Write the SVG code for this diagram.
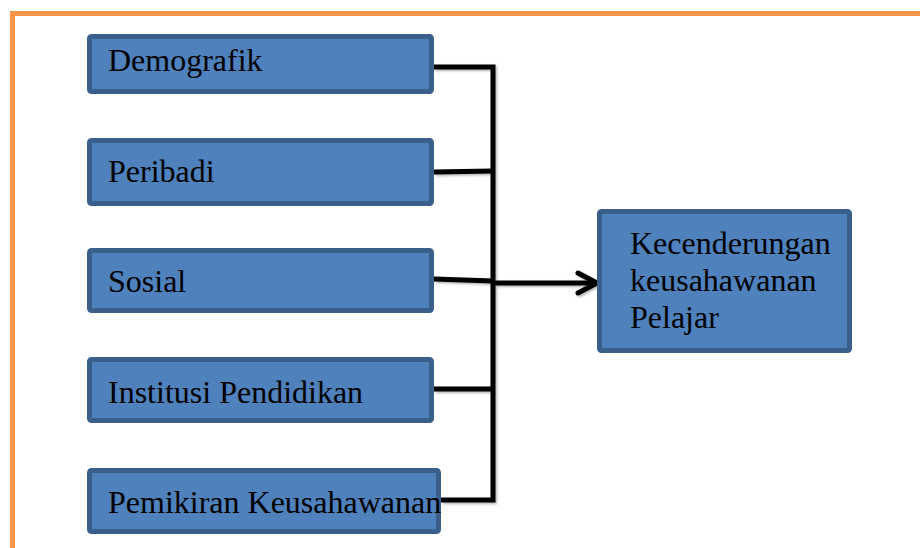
<svg xmlns="http://www.w3.org/2000/svg" width="920" height="548" viewBox="0 0 920 548">
  <defs>
    <style>
      .box { fill: #4F81BD; stroke: #3A5F8B; stroke-width: 5; }
      .label { font-family: "Liberation Serif", "Times New Roman", serif; font-size: 32px; fill: #000; }
      .wire { fill: none; stroke: #000; stroke-width: 5; stroke-linejoin: miter; }
    </style>
    <filter id="soft" x="-5%" y="-5%" width="110%" height="110%">
      <feDropShadow dx="1.5" dy="1.5" stdDeviation="1.2" flood-color="#000" flood-opacity="0.3"/>
    </filter>
  </defs>

  <rect width="920" height="548" fill="#fff"/>

  <!-- orange frame, running off the right and bottom edges -->
  <path d="M12.5 548 V13.5 H920" fill="none" stroke="#F79646" stroke-width="5"/>

  <g id="connectors" filter="url(#soft)">
    <path class="wire" d="M434 67 H493 V500 H441"/>
    <path class="wire" d="M434 172 L493 171"/>
    <path class="wire" d="M434 279 L493 281"/>
    <path class="wire" d="M434 389 H493"/>
    <path class="wire" d="M493 283 H596"/>
    <path class="wire" d="M578 273 L597 283 L578 293" stroke-linecap="round"/>
  </g>

  <g id="demografik">
    <rect class="box" x="89.5" y="36.5" width="342" height="55" rx="2"/>
    <text class="label" x="108" y="71">Demografik</text>
  </g>

  <g id="peribadi">
    <rect class="box" x="89.5" y="140.5" width="342" height="63" rx="2"/>
    <text class="label" x="108" y="182">Peribadi</text>
  </g>

  <g id="sosial">
    <rect class="box" x="89.5" y="250.5" width="342" height="60" rx="2"/>
    <text class="label" x="108" y="292">Sosial</text>
  </g>

  <g id="institusi-pendidikan">
    <rect class="box" x="89.5" y="359.5" width="342" height="61" rx="2"/>
    <text class="label" x="108" y="403">Institusi Pendidikan</text>
  </g>

  <g id="pemikiran-keusahawanan">
    <rect class="box" x="89.5" y="470.5" width="349" height="61" rx="2"/>
    <text class="label" x="108" y="513">Pemikiran Keusahawanan</text>
  </g>

  <g id="kecenderungan">
    <rect class="box" x="599.5" y="211.5" width="250" height="139" rx="2"/>
    <text class="label" x="630" y="254">Kecenderungan</text>
    <text class="label" x="630" y="291">keusahawanan</text>
    <text class="label" x="630" y="328">Pelajar</text>
  </g>
</svg>
